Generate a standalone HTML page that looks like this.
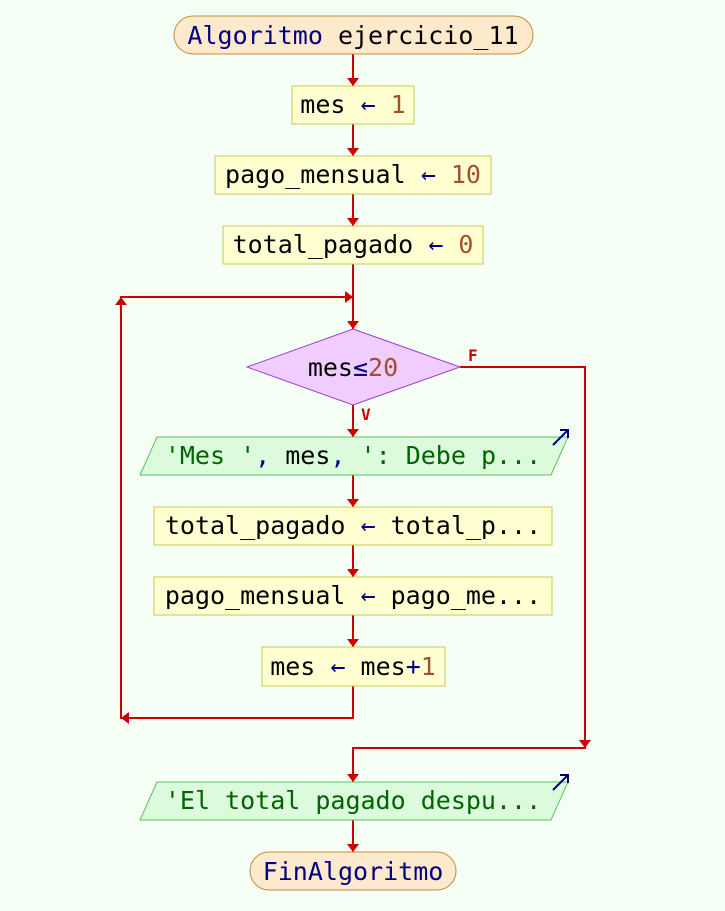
<!DOCTYPE html>
<html><head><meta charset="utf-8"><style>
html,body{margin:0;padding:0;background:#f5fff5;}
svg{display:block;}
text{font-family:"DejaVu Sans Mono","Liberation Mono",monospace;font-size:25px;}
.k{fill:#000080}.n{fill:#a0522d}.s{fill:#006400}
</style></head><body>
<svg width="725" height="911" viewBox="0 0 725 911" xmlns="http://www.w3.org/2000/svg">
<rect width="725" height="911" fill="#f5fff5"/>
<g stroke="#cc0000" stroke-width="2" fill="none">
<path d="M353 54V86M353 124V156M353 194V226M353 264V329M353 405V437M353 475V507M353 545V577M353 615V647"/>
<path d="M353 686V718H121V297H353"/>
<path d="M460 367H585V748H353V782M353 820V852"/>
</g>
<g fill="#cc0000">
<polygon points="347,78 359,78 353,86"/>
<polygon points="347,148 359,148 353,156"/>
<polygon points="347,218 359,218 353,226"/>
<polygon points="347,321 359,321 353,329"/>
<polygon points="345,291 345,303 353,297"/>
<polygon points="115,305 127,305 121,297"/>
<polygon points="129,712 129,724 121,718"/>
<polygon points="347,429 359,429 353,437"/>
<polygon points="347,499 359,499 353,507"/>
<polygon points="347,569 359,569 353,577"/>
<polygon points="347,639 359,639 353,647"/>
<polygon points="579,740 591,740 585,748"/>
<polygon points="347,774 359,774 353,782"/>
<polygon points="347,844 359,844 353,852"/>
</g>
<rect x="174" y="16" width="359" height="38" rx="19" fill="#fde9cc" stroke="#c88a3c"/>
<text x="353" y="44" text-anchor="middle"><tspan class="k">Algoritmo</tspan> ejercicio_11</text>
<rect x="292" y="86" width="122" height="38" fill="#ffffd2" stroke="#c8c850"/>
<text x="353" y="113" text-anchor="middle">mes <tspan class="k">←</tspan> <tspan class="n">1</tspan></text>
<rect x="215" y="156" width="276" height="38" fill="#ffffd2" stroke="#c8c850"/>
<text x="353" y="183" text-anchor="middle">pago_mensual <tspan class="k">←</tspan> <tspan class="n">10</tspan></text>
<rect x="223" y="226" width="260" height="38" fill="#ffffd2" stroke="#c8c850"/>
<text x="353" y="253" text-anchor="middle">total_pagado <tspan class="k">←</tspan> <tspan class="n">0</tspan></text>
<polygon points="353,329 460,367 353,405 247,367" fill="#f0ccff" stroke="#9a40d0"/>
<text x="353" y="376" text-anchor="middle">mes<tspan class="k">≤</tspan><tspan class="n">20</tspan></text>
<text x="468" y="361" fill="#cc0000" style="font-size:16px;font-weight:bold">F</text>
<text x="361" y="420" fill="#cc0000" style="font-size:16px;font-weight:bold">V</text>
<polygon points="157,437 568,437 551,475 140,475" fill="#dcfadc" stroke="#60c060"/>
<text x="353" y="464" text-anchor="middle"><tspan class="s">'Mes '</tspan><tspan class="k">,</tspan> mes<tspan class="k">,</tspan> <tspan class="s">': Debe p...</tspan></text>
<path d="M553 445L568 430M560 430H568V438" stroke="#000080" stroke-width="2" fill="none"/>
<rect x="154" y="507" width="398" height="38" fill="#ffffd2" stroke="#c8c850"/>
<text x="353" y="534" text-anchor="middle">total_pagado <tspan class="k">←</tspan> total_p...</text>
<rect x="154" y="577" width="398" height="38" fill="#ffffd2" stroke="#c8c850"/>
<text x="353" y="604" text-anchor="middle">pago_mensual <tspan class="k">←</tspan> pago_me...</text>
<rect x="262" y="647" width="183" height="39" fill="#ffffd2" stroke="#c8c850"/>
<text x="353" y="675" text-anchor="middle">mes <tspan class="k">←</tspan> mes<tspan class="k">+</tspan><tspan class="n">1</tspan></text>
<polygon points="157,782 568,782 551,820 140,820" fill="#dcfadc" stroke="#60c060"/>
<text x="353" y="809" text-anchor="middle" class="s">'El total pagado despu...</text>
<path d="M553 790L568 775M560 775H568V783" stroke="#000080" stroke-width="2" fill="none"/>
<rect x="250" y="852" width="206" height="38" rx="19" fill="#fde9cc" stroke="#c88a3c"/>
<text x="353" y="880" text-anchor="middle" class="k">FinAlgoritmo</text>
</svg>
</body></html>
